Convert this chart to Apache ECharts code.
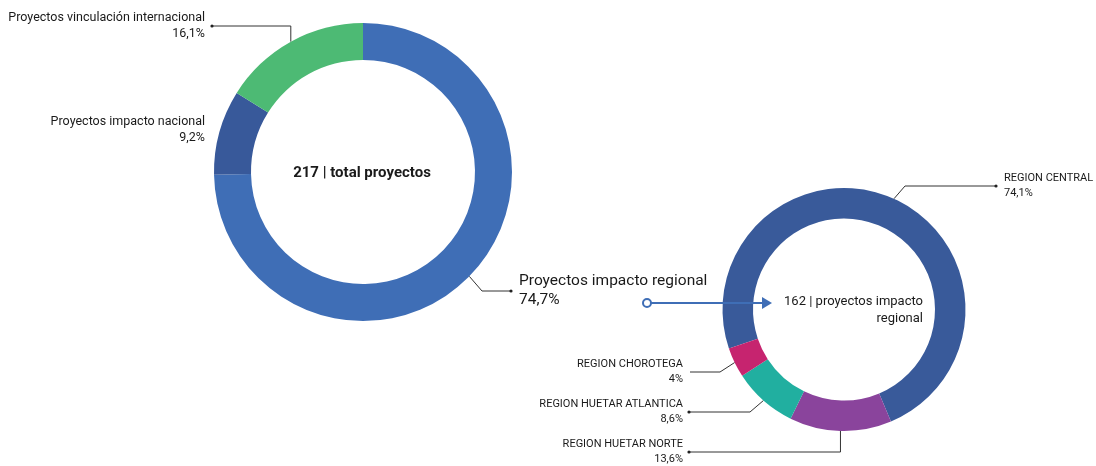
<!DOCTYPE html>
<html>
<head>
<meta charset="utf-8">
<script src="https://cdn.jsdelivr.net/npm/echarts@6/dist/echarts.min.js"></script>
<style>
html,body{margin:0;padding:0;background:#fff;}
#c{width:1096px;height:466px;}
</style>
</head>
<body>
<div id="c"></div>
<script>
// ---- data ----
var totalCategories = ['Proyectos impacto regional', 'Proyectos impacto nacional', 'Proyectos vinculación internacional'];
var totalValues = [74.7, 9.2, 16.1];
var totalCount = 217;

var regionCategories = ['REGION CENTRAL', 'REGION HUETAR NORTE', 'REGION HUETAR ATLANTICA', 'REGION CHOROTEGA'];
var regionValues = [74.1, 13.6, 8.6, 4];
var regionCount = 162;

// ---- styles / layout ----
var FONT = 'Roboto, "Noto Sans", sans-serif';
var totalColors = ['#3F6EB6', '#38599A', '#4DBA74'];
var regionColors = ['#395A9A', '#8A449C', '#21AFA0', '#C6246F'];

// label layout: x,y anchor, align, elbowX (null => vertical from ring), lineEnd x, dot
var totalLabelLayout = [
  {x: 519, y: 291, align: 'left', elbowX: 482, lineEnd: 511, dot: true, line: true, fontSize: 15.5, lineHeight: 19},
  {x: 205, y: 130, align: 'right', line: false, fontSize: 12.5, lineHeight: 16.5},
  {x: 205, y: 26, align: 'right', elbowX: null, lineEnd: 212, dot: true, line: true, fontSize: 12.5, lineHeight: 16.5}
];
var regionLabelLayout = [
  {x: 1004, y: 186, align: 'left', elbowX: 905, lineEnd: 996, dot: true, line: true, fontSize: 11, lineHeight: 15},
  {x: 683, y: 452, align: 'right', elbowX: null, lineEnd: 689, dot: true, line: true, fontSize: 11, lineHeight: 15},
  {x: 683, y: 412, align: 'right', elbowX: 750, lineEnd: 689, dot: true, line: true, fontSize: 11, lineHeight: 15},
  {x: 683, y: 372, align: 'right', elbowX: 720, lineEnd: 690, dot: false, line: true, fontSize: 11, lineHeight: 15}
];

function fmt(p) {
  return p.name + '\n' + String(p.value).replace('.', ',') + '%';
}

function makeLayout(layout) {
  return function (params) {
    var L = layout[params.dataIndex];
    var res = {x: L.x, y: L.y, align: L.align, verticalAlign: 'middle'};
    if (L.line && params.labelLinePoints) {
      var p0 = params.labelLinePoints[0];
      var ex = L.elbowX == null ? p0[0] : L.elbowX;
      res.labelLinePoints = [[p0[0], p0[1]], [ex, L.y], [L.lineEnd, L.y]];
    }
    return res;
  };
}

function buildData(names, values, colors, layout) {
  return names.map(function (n, i) {
    return {
      name: n,
      value: values[i],
      itemStyle: {color: colors[i]},
      label: {fontSize: layout[i].fontSize, lineHeight: layout[i].lineHeight},
      labelLine: {show: layout[i].line}
    };
  });
}

var dots = [];
function addDots(layout) {
  layout.forEach(function (L) {
    if (L.dot) dots.push({type: 'circle', z: 100, shape: {cx: L.lineEnd, cy: L.y, r: 1.6}, style: {fill: '#222'}});
  });
}
addDots(totalLabelLayout);
addDots(regionLabelLayout);

var chart = echarts.init(document.getElementById('c'), null, {renderer: 'canvas'});
var arrowColor = '#3F6EB6';

chart.setOption({
  backgroundColor: '#fff',
  animation: false,
  series: [
    {
      type: 'pie',
      center: [363, 172],
      radius: [112, 149],
      startAngle: 90,
      clockwise: true,
      avoidLabelOverlap: false,
      emphasis: {disabled: true},
      label: {show: true, position: 'outer', formatter: fmt, color: '#1a1a1a', fontFamily: FONT},
      labelLine: {show: true, length: 10, length2: 10, lineStyle: {color: '#333', width: 1}},
      labelLayout: makeLayout(totalLabelLayout),
      data: buildData(totalCategories, totalValues, totalColors, totalLabelLayout)
    },
    {
      type: 'pie',
      center: [844, 309.5],
      radius: [91, 121.5],
      startAngle: 198.7,
      clockwise: true,
      avoidLabelOverlap: false,
      emphasis: {disabled: true},
      label: {show: true, position: 'outer', formatter: fmt, color: '#1a1a1a', fontFamily: FONT},
      labelLine: {show: true, length: 10, length2: 10, lineStyle: {color: '#333', width: 1}},
      labelLayout: makeLayout(regionLabelLayout),
      data: buildData(regionCategories, regionValues, regionColors, regionLabelLayout)
    }
  ],
  graphic: [
    {
      type: 'text', z: 100, x: 362, y: 173,
      style: {text: totalCount + ' | total proyectos', font: 'bold 15px ' + FONT, fill: '#1a1a1a', textAlign: 'center', textVerticalAlign: 'middle'}
    },
    {
      type: 'text', z: 100, x: 923, y: 310,
      style: {text: regionCount + ' | proyectos impacto\nregional', font: '13px ' + FONT, lineHeight: 17, fill: '#1a1a1a', textAlign: 'right', textVerticalAlign: 'middle'}
    },
    {type: 'line', z: 100, shape: {x1: 651, y1: 303, x2: 764, y2: 303}, style: {stroke: arrowColor, lineWidth: 2}},
    {type: 'polygon', z: 100, shape: {points: [[762, 297], [772, 303], [762, 309]]}, style: {fill: arrowColor}},
    {type: 'circle', z: 101, shape: {cx: 647, cy: 303, r: 4}, style: {fill: '#fff', stroke: arrowColor, lineWidth: 2}}
  ].concat(dots)
});
</script>
</body>
</html>
